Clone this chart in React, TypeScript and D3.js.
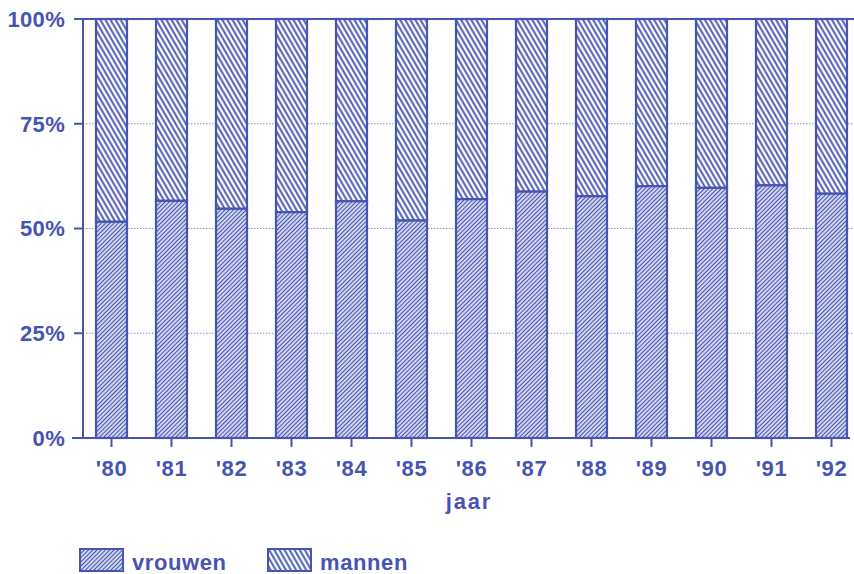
import React from "react";
import * as d3 from "d3";

const years = ["'80", "'81", "'82", "'83", "'84", "'85", "'86", "'87", "'88", "'89", "'90", "'91", "'92"];
const vrouwen = [51.6, 56.6, 54.7, 53.9, 56.5, 51.9, 57.0, 58.8, 57.7, 60.1, 59.7, 60.3, 58.3];
const mannen = vrouwen.map((v) => 100 - v);
const yTicks = [0, 25, 50, 75, 100];
const xTitle = "jaar";
const legendLabels = ["vrouwen", "mannen"];

const BLUE = "#4654b2";
const W = 854;
const H = 574;
const FONT = "'Liberation Sans', Arial, sans-serif";

export default function App() {
  const x = d3.scaleBand<string>().domain(years).range([81.5, 861.5]).paddingInner(0.483).paddingOuter(0.2415);
  const y = d3.scaleLinear().domain([0, 100]).range([438, 19]);
  const axisX = 83;
  const right = 854;

  return (
    <svg width={W} height={H} style={{ position: "absolute", left: 0, top: 0, background: "#fff" }}>
      <defs>
        <pattern id="hatchV" patternUnits="userSpaceOnUse" width={3} height={10} patternTransform="rotate(45)">
          <rect width={3} height={10} fill="#fff" />
          <line x1={1.5} y1={0} x2={1.5} y2={10} stroke={BLUE} strokeWidth={1.5} />
        </pattern>
        <pattern id="hatchM" patternUnits="userSpaceOnUse" width={4.4} height={10} patternTransform="rotate(-30)">
          <rect width={4.4} height={10} fill="#fff" />
          <line x1={2.2} y1={0} x2={2.2} y2={10} stroke={BLUE} strokeWidth={1.9} />
        </pattern>
      </defs>

      {/* gridlines */}
      {yTicks.filter((t) => t > 0 && t < 100).map((t) => (
        <line key={"g" + t} x1={axisX} x2={right} y1={y(t)} y2={y(t)} stroke={BLUE} strokeWidth={0.8} strokeDasharray="1.5,1.5" opacity={0.8} />
      ))}

      {/* bars */}
      {years.map((yr, i) => {
        const bx = x(yr)!;
        const bw = x.bandwidth();
        return (
          <g key={yr}>
            <rect x={bx} y={y(100)} width={bw} height={y(100 - mannen[i]) - y(100)} fill="url(#hatchM)" stroke={BLUE} strokeWidth={2.2} />
            <rect x={bx} y={y(vrouwen[i])} width={bw} height={y(0) - y(vrouwen[i])} fill="url(#hatchV)" stroke={BLUE} strokeWidth={2.2} />
          </g>
        );
      })}

      {/* axes */}
      <line x1={axisX} x2={axisX} y1={y(100)} y2={y(0)} stroke={BLUE} strokeWidth={2} />
      <line x1={axisX} x2={right} y1={y(100)} y2={y(100)} stroke={BLUE} strokeWidth={2} />
      <line x1={72} x2={850} y1={y(0)} y2={y(0)} stroke={BLUE} strokeWidth={2} />
      {yTicks.map((t) => (
        <g key={"yt" + t}>
          <line x1={74} x2={axisX} y1={y(t)} y2={y(t)} stroke={BLUE} strokeWidth={2} />
          <text x={65} y={y(t)} dy="0.36em" textAnchor="end" fill={BLUE} fontFamily={FONT} fontWeight={700} fontSize={22} letterSpacing={0.3}>
            {t + "%"}
          </text>
        </g>
      ))}
      {years.map((yr) => {
        const cx = x(yr)! + x.bandwidth() / 2;
        return (
          <g key={"xt" + yr}>
            <line x1={cx} x2={cx} y1={y(0)} y2={y(0) + 9} stroke={BLUE} strokeWidth={2} />
            <text x={cx} y={476} textAnchor="middle" fill={BLUE} fontFamily={FONT} fontWeight={700} fontSize={22} letterSpacing={0.6}>
              {yr}
            </text>
          </g>
        );
      })}
      <text x={469} y={509} textAnchor="middle" fill={BLUE} fontFamily={FONT} fontWeight={700} fontSize={22} letterSpacing={1.8}>
        {xTitle}
      </text>

      {/* legend */}
      <rect x={80} y={549} width={43} height={22} fill="url(#hatchV)" stroke={BLUE} strokeWidth={2} />
      <text x={132} y={570} fill={BLUE} fontFamily={FONT} fontWeight={700} fontSize={22} letterSpacing={0.6}>
        {legendLabels[0]}
      </text>
      <rect x={268} y={549} width={43} height={22} fill="url(#hatchM)" stroke={BLUE} strokeWidth={2} />
      <text x={320} y={570} fill={BLUE} fontFamily={FONT} fontWeight={700} fontSize={22} letterSpacing={0.6}>
        {legendLabels[1]}
      </text>
    </svg>
  );
}
